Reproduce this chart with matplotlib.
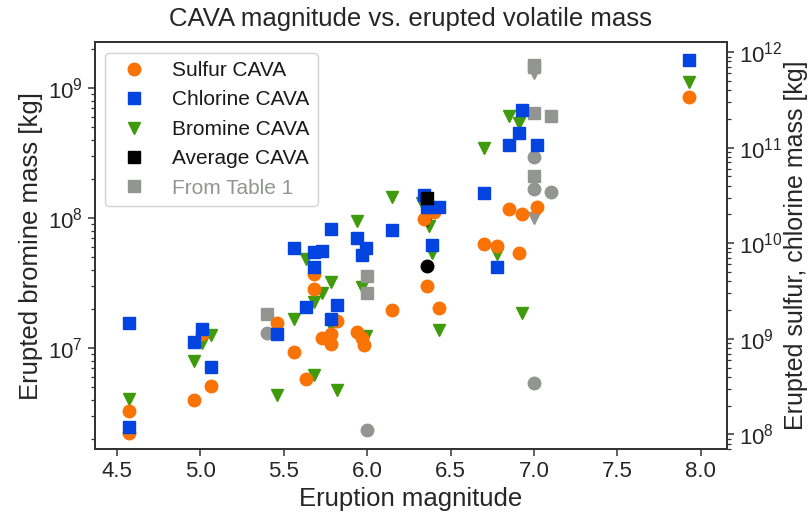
import matplotlib
matplotlib.use("Agg")
import matplotlib.pyplot as plt
from matplotlib.lines import Line2D

plt.rcParams['font.family'] = ['Liberation Sans', 'DejaVu Sans']
plt.rcParams['mathtext.default'] = 'regular'

# CAVA eruptions: magnitude vs erupted mass [kg]
sulfur_mag = [4.57, 4.57, 4.96, 5.01, 5.06, 5.46, 5.56, 5.63, 5.68, 5.68, 5.73, 5.78, 5.78, 5.82,
              5.94, 5.97, 5.98, 6.15, 6.34, 6.40, 6.36, 6.43, 6.70, 6.78, 6.85, 6.91, 6.93, 7.02, 7.93]
sulfur_mass = [1.74e8, 1.03e8, 2.27e8, 1.11e9, 3.24e8, 1.46e9, 7.3e8, 3.79e8, 4.71e9, 3.31e9, 1.01e9,
               1.11e9, 8.85e8, 1.53e9, 1.19e9, 1.02e9, 8.57e8, 1.98e9, 1.79e10, 2.13e10, 3.56e9,
               2.08e9, 9.8e9, 9.4e9, 2.28e10, 7.96e9, 2.01e10, 2.37e10, 3.43e11]

chlorine_mag = [4.57, 4.57, 4.96, 5.01, 5.06, 5.46, 5.56, 5.63, 5.68, 5.68, 5.73, 5.78, 5.78, 5.82,
                5.94, 5.97, 5.99, 6.15, 6.34, 6.36, 6.43, 6.39, 6.70, 6.78, 6.85, 6.91, 6.93, 7.02, 7.93]
chlorine_mass = [1.47e9, 1.18e8, 9.27e8, 1.28e9, 5.07e8, 1.12e9, 9.0e9, 2.15e9, 8.17e9, 5.64e9, 8.3e9,
                 1.40e10, 1.60e9, 2.27e9, 1.13e10, 7.53e9, 8.87e9, 1.38e10, 3.21e10, 2.38e10, 2.37e10,
                 9.6e9, 3.35e10, 5.64e9, 1.07e11, 1.41e11, 2.49e11, 1.07e11, 8.19e11]

bromine_mag = [4.57, 4.96, 5.01, 5.06, 5.46, 5.56, 5.63, 5.68, 5.68, 5.73, 5.78, 5.78, 5.82, 5.94,
               5.97, 5.99, 6.15, 6.33, 6.37, 6.39, 6.43, 6.70, 6.78, 6.85, 6.91, 6.93, 7.93]
bromine_mass = [4.03e6, 8.02e6, 1.10e7, 1.26e7, 4.33e6, 1.68e7, 4.84e7, 2.27e7, 6.2e6, 2.64e7, 3.24e7,
                1.48e7, 4.75e6, 9.5e7, 2.94e7, 1.24e7, 1.46e8, 1.31e8, 8.67e7, 5.35e7, 1.37e7,
                3.44e8, 5.28e7, 6.1e8, 5.41e8, 1.87e7, 1.12e9]

# Average CAVA eruption
avg_mag = 6.36
avg_sulfur = 5.8e9
avg_chlorine = 2.97e10
avg_bromine = 9.7e7

# Eruptions from Table 1
table_s_mag = [5.4, 6.0, 7.0, 7.0, 7.0, 7.1]
table_s_mass = [1.16e9, 1.12e8, 8.05e10, 3.65e10, 3.45e8, 3.4e10]
table_cl_mag = [5.4, 6.0, 6.0, 7.0, 7.0, 7.0, 7.0, 7.1]
table_cl_mass = [1.81e9, 4.5e9, 3.03e9, 7.4e11, 7.0e11, 2.29e11, 5.08e10, 2.17e11]
table_br_mag = [7.0, 7.0]
table_br_mass = [1.3e9, 9.95e7]

c_s = '#f97306'
c_cl = '#0343df'
c_br = '#3f9b0b'
c_tab = '#929591'
ms = 9

fig = plt.figure(figsize=(8.1, 5.15), dpi=100)
ax = fig.add_axes([0.117, 0.128, 0.7805, 0.79])
ax2 = ax.twinx()

# bromine on the left axis
ax.plot(bromine_mag, bromine_mass, 'v', color=c_br, ms=ms, ls='none')
ax.plot(table_br_mag, table_br_mass, 'v', color=c_tab, ms=ms, ls='none')
ax.plot([avg_mag], [avg_bromine], 'v', color='k', ms=ms, ls='none')

# sulfur and chlorine on the right axis
ax2.plot(table_s_mag, table_s_mass, 'o', color=c_tab, ms=ms, ls='none')
ax2.plot(table_cl_mag, table_cl_mass, 's', color=c_tab, ms=ms, ls='none')
ax2.plot(sulfur_mag, sulfur_mass, 'o', color=c_s, ms=ms, ls='none')
ax2.plot(chlorine_mag, chlorine_mass, 's', color=c_cl, ms=ms, ls='none')
ax2.plot([avg_mag], [avg_sulfur], 'o', color='k', ms=ms, ls='none')
ax2.plot([avg_mag], [avg_chlorine], 's', color='k', ms=ms, ls='none')

ax.set_yscale('log')
ax2.set_yscale('log')
ax.set_xlim(4.366, 8.157)
ax.set_ylim(1.67e6, 2.26e9)
ax2.set_ylim(7.0e7, 1.27e12)
ax.set_xticks([4.5, 5.0, 5.5, 6.0, 6.5, 7.0, 7.5, 8.0])

spine_c = '#333333'
for a in (ax, ax2):
    for s in a.spines.values():
        s.set_color(spine_c)
        s.set_linewidth(1.3)
    a.tick_params(which='major', direction='out', length=5, width=1.1, color=spine_c,
                  labelsize=16, labelcolor='#262626')
    a.tick_params(which='minor', direction='out', length=3, width=0.9, color=spine_c)

ax.set_xlabel('Eruption magnitude', fontsize=18.5, color='#262626')
ax.set_ylabel('Erupted bromine mass [kg]', fontsize=18.5, color='#262626')
ax2.set_ylabel('Erupted sulfur, chlorine mass [kg]', fontsize=18, color='#262626', labelpad=1)
ax.set_title('CAVA magnitude vs. erupted volatile mass', fontsize=18.5, color='#262626', pad=12)

handles = [
    Line2D([], [], marker='o', color=c_s, ms=ms, ls='none'),
    Line2D([], [], marker='s', color=c_cl, ms=ms, ls='none'),
    Line2D([], [], marker='v', color=c_br, ms=ms, ls='none'),
    Line2D([], [], marker='s', color='k', ms=ms, ls='none'),
    Line2D([], [], marker='s', color=c_tab, ms=ms, ls='none'),
]
labels = ['Sulfur CAVA', 'Chlorine CAVA', 'Bromine CAVA', 'Average CAVA', 'From Table 1']
leg = ax2.legend(handles, labels, loc='upper left', fontsize=15, frameon=True, fancybox=True,
                 edgecolor='#cccccc', framealpha=0.85)
for t in leg.get_texts():
    t.set_color('#1a1a1a')
leg.get_texts()[-1].set_color(c_tab)

fig.savefig('out.png', dpi=100)
